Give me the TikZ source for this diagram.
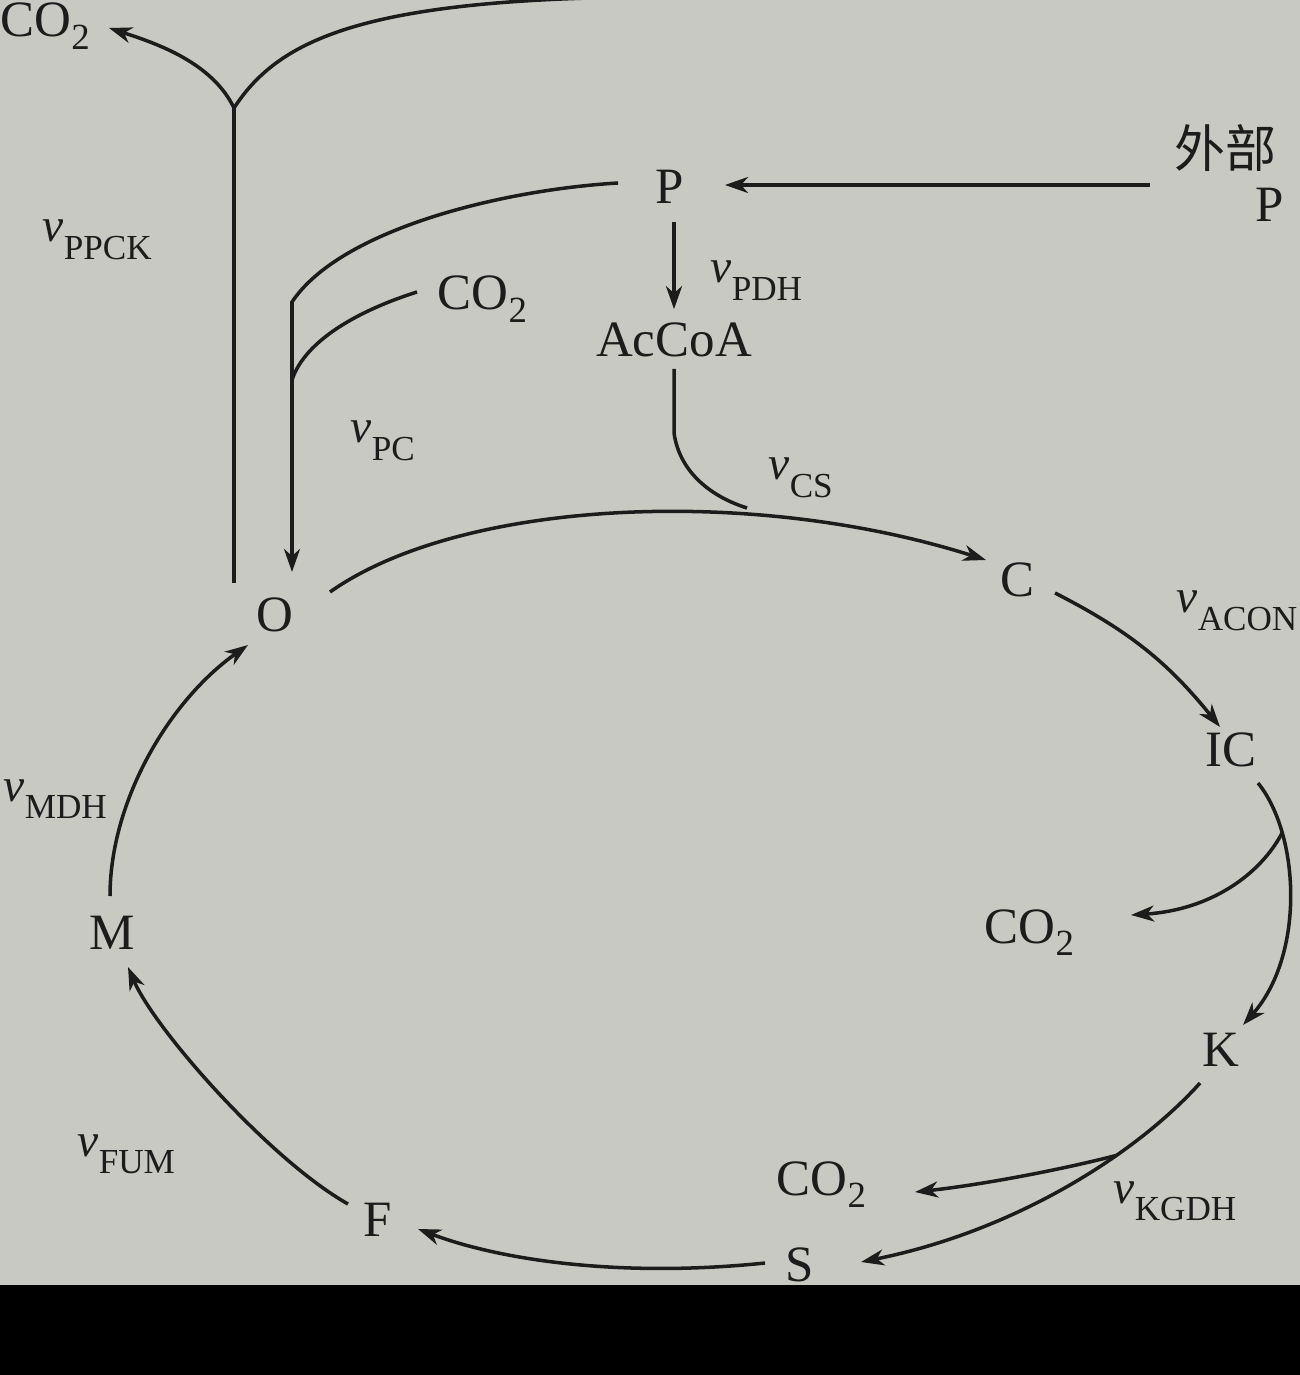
\documentclass[tikz,border=0pt]{standalone}
\usepackage{fontspec}
\setmainfont{Liberation Serif}
\newfontfamily\cjkfont{Noto Sans CJK SC}
\usetikzlibrary{arrows.meta,calc}
\definecolor{paper}{RGB}{201,201,196}
\definecolor{ink}{RGB}{28,28,28}
\newcommand{\mainsz}{\fontsize{14.5}{17}\selectfont}
\newcommand{\subsz}{\fontsize{10}{12}\selectfont}
\newcommand{\vsz}{\fontsize{13.5}{16}\selectfont}
\newcommand{\cotwo}{CO\raisebox{-0.55ex}{\fontsize{10.5}{12}\selectfont 2}}
\newcommand{\rate}[1]{{\vsz\itshape v}\raisebox{-0.75ex}{\subsz #1}}
\tikzset{
  lbl/.style={inner sep=0pt, text=ink, font=\mainsz},
  ln/.style={line width=1pt, draw=ink},
  arr/.style={-{Stealth[length=2.3mm,width=1.6mm,inset=0.7mm]}}
}
\begin{document}
\begin{tikzpicture}
\useasboundingbox (0,0) rectangle (13,-13.75);
\fill[paper] (0,0) rectangle (13,-12.85);
\fill[black] (0,-12.85) rectangle (13,-13.75);
\begin{scope}
\clip (0,0) rectangle (13,-12.85);
% metabolite nodes
\node[lbl, anchor=base west] (co2a) at (0.0,-0.37) {\cotwo};
\node[lbl] (P) at (6.70,-1.87) {P};
\node[lbl] (AcCoA) at (6.74,-3.40) {AcCoA};
\node[lbl, font={\cjkfont\mainsz}] (ext) at (12.25,-1.48) {外部};
\node[lbl] (Pext) at (12.70,-2.05) {P};
\node[lbl, anchor=base west] (co2b) at (4.37,-3.10) {\cotwo};
\node[lbl] (O) at (2.75,-6.15) {O};
\node[lbl] (C) at (10.17,-5.80) {C};
\node[lbl] (IC) at (12.31,-7.50) {IC};
\node[lbl, anchor=base west] (co2c) at (9.84,-9.43) {\cotwo};
\node[lbl] (K) at (12.21,-10.50) {K};
\node[lbl, anchor=base west] (co2d) at (7.76,-11.95) {\cotwo};
\node[lbl] (S) at (8.00,-12.65) {S};
\node[lbl] (F) at (3.78,-12.20) {F};
\node[lbl] (M) at (1.12,-9.33) {M};
% rate labels
\node[lbl, anchor=base west] (rPPCK) at (0.42,-2.42) {\rate{PPCK}};
\node[lbl, anchor=base west] (rPDH) at (7.10,-2.83) {\rate{PDH}};
\node[lbl, anchor=base west] (rPC) at (3.50,-4.43) {\rate{PC}};
\node[lbl, anchor=base west] (rCS) at (7.68,-4.80) {\rate{CS}};
\node[lbl, anchor=base west] (rACON) at (11.76,-6.13) {\rate{ACON}};
\node[lbl, anchor=base west] (rMDH) at (0.03,-8.01) {\rate{MDH}};
\node[lbl, anchor=base west] (rFUM) at (0.77,-11.56) {\rate{FUM}};
\node[lbl, anchor=base west] (rKGDH) at (11.13,-12.03) {\rate{KGDH}};
% connector points
\coordinate (J) at (2.34,-1.08);
\coordinate (Jb) at (2.34,-5.83);
\coordinate (co2aTip) at (1.09,-0.28);
\coordinate (topEnd) at (5.9,0.02);
\coordinate (Pl) at (6.18,-1.83);
\coordinate (pcBend) at (2.92,-3.02);
\coordinate (pcJoin) at (2.92,-3.80);
\coordinate (Otop) at (2.92,-5.72);
\coordinate (co2bEnd) at (4.17,-2.92);
\coordinate (extStart) at (11.50,-1.85);
\coordinate (Ptip) at (7.25,-1.85);
\coordinate (pdhA) at ($(AcCoA.north |- P.south)+(0,-0.18)$);
\coordinate (pdhB) at ($(AcCoA.north)+(0,0.13)$);
\coordinate (acA) at ($(AcCoA.south)+(0,-0.11)$);
\coordinate (acB) at (6.74,-4.33);
\coordinate (csJoin) at (7.47,-5.08);
\coordinate (Oarc) at (3.30,-5.92);
\coordinate (Ctip) at (9.86,-5.60);
\coordinate (Cout) at (10.55,-5.93);
\coordinate (ICtip) at (12.20,-7.27);
\coordinate (ICout) at (12.58,-7.83);
\coordinate (Ktip) at (12.43,-10.25);
\coordinate (co2cTip) at (11.31,-9.15);
\coordinate (Kout) at (12.00,-10.83);
\coordinate (Stip) at (8.61,-12.62);
\coordinate (co2dTip) at (9.15,-11.92);
\coordinate (Sout) at (7.65,-12.63);
\coordinate (Ftip) at (4.18,-12.29);
\coordinate (Fout) at (3.48,-12.04);
\coordinate (Mtip) at (1.28,-9.67);
\coordinate (Mout) at (1.10,-8.96);
\coordinate (Otip) at (2.48,-6.45);
% PPCK branch
\draw[ln] (Jb) -- (J);
\draw[ln,arr] (J) .. controls (2.12,-0.62) and (1.55,-0.43) .. (co2aTip);
\draw[ln] (J) .. controls (2.75,-0.45) and (3.5,-0.05) .. (topEnd);
% external P
\draw[ln,arr] (extStart) -- (Ptip);
% PC
\draw[ln,arr] (Pl) .. controls (5.0,-1.9) and (3.4,-2.3) .. (pcBend) -- (Otop);
\draw[ln] (co2bEnd) .. controls (3.6,-3.1) and (3.05,-3.4) .. (pcJoin);
% PDH
\draw[ln,arr] (pdhA) -- (pdhB);
% CS
\draw[ln] (acA) -- (acB) .. controls (6.80,-4.75) and (7.15,-4.98) .. (csJoin);
\draw[ln,arr] (Oarc) .. controls (4.6,-5.0) and (7.5,-4.85) .. (Ctip);
% ACON
\draw[ln,arr] (Cout) to[bend left=12] (ICtip);
% ICDH
\draw[ln,arr] (ICout) .. controls (13.0,-8.35) and (13.05,-9.55) .. coordinate[pos=0.25] (br1) (Ktip);
\draw[ln,arr] (br1) .. controls (12.6,-8.75) and (12.1,-9.1) .. (co2cTip);
% KGDH
\draw[ln,arr] (Kout) .. controls (11.4,-11.5) and (10.2,-12.3) .. coordinate[pos=0.35] (br2) (Stip);
\draw[ln,arr] (br2) .. controls (10.6,-11.7) and (9.8,-11.85) .. (co2dTip);
% SDH
\draw[ln,arr] (Sout) .. controls (6.2,-12.78) and (5.0,-12.6) .. (Ftip);
% FUM
\draw[ln,arr] (Fout) .. controls (2.7,-11.6) and (1.55,-10.3) .. (Mtip);
% MDH
\draw[ln,arr] (Mout) .. controls (1.10,-8.0) and (1.7,-7.0) .. (Otip);
\end{scope}
\end{tikzpicture}
\end{document}
